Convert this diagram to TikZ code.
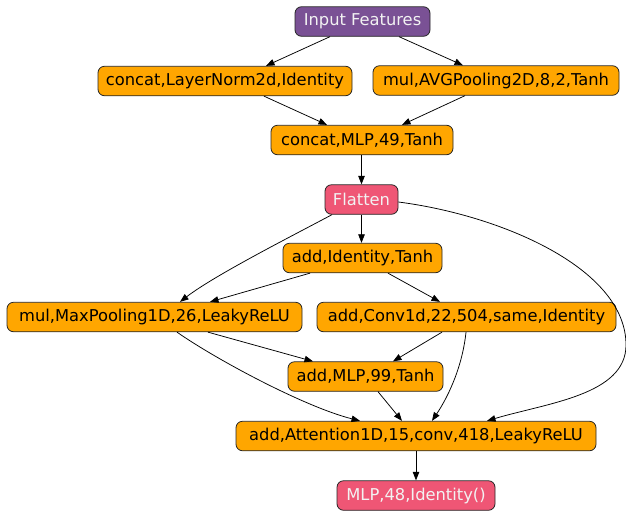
\documentclass[tikz,border=0pt]{standalone}
\usepackage{fontspec}
\setmainfont{DejaVu Sans}
\usetikzlibrary{arrows.meta}
\definecolor{nodeorange}{HTML}{FFA600}
\definecolor{nodepurple}{HTML}{7A5195}
\definecolor{nodepink}{HTML}{EF5675}
\definecolor{lighttext}{HTML}{F2F2F2}
\tikzset{
  box/.style={draw=black!85, line width=0.8pt, rounded corners=6.5pt, fill=nodeorange,
    minimum height=29.5pt, inner sep=2pt, text=black,
    font=\fontsize{16.3}{19}\selectfont},
  inbox/.style={box, fill=nodepurple, text=lighttext},
  pinkbox/.style={box, fill=nodepink, text=lighttext},
  conn/.style={line width=0.75pt, -{Triangle[length=8.5pt,width=6.5pt]}}
}
\begin{document}
\begin{tikzpicture}[x=1pt,y=-1pt]
\useasboundingbox (0,0) rectangle (626,512);
\node[inbox, minimum width=135pt] (in) at (362.5,21.5) {Input Features};
\node[box, minimum width=254pt] (c1) at (225,81) {concat,LayerNorm2d,Identity};
\node[box, minimum width=246pt] (c2) at (496,80.5) {mul,AVGPooling2D,8,2,Tanh};
\node[box, minimum width=182pt] (c3) at (362,140) {concat,MLP,49,Tanh};
\node[pinkbox, minimum width=73pt] (flat) at (361.5,199.5) {Flatten};
\node[box, minimum width=159pt] (ait) at (362.5,258) {add,Identity,Tanh};
\node[box, minimum width=295pt] (mp) at (154.5,317) {mul,MaxPooling1D,26,LeakyReLU};
\node[box, minimum width=299pt] (cv) at (466.5,317) {add,Conv1d,22,504,same,Identity};
\node[box, minimum width=155pt] (m99) at (365.5,376.5) {add,MLP,99,Tanh};
\node[box, minimum width=360pt] (att) at (416,436) {add,Attention1D,15,conv,418,LeakyReLU};
\node[pinkbox, minimum width=158pt] (out) at (416,495.5) {MLP,48,Identity()};

\draw[conn] ([xshift=-32.5pt]in.south) -- ([xshift=41pt]c1.north);
\draw[conn] ([xshift=36.5pt]in.south) -- ([xshift=-33pt]c2.north);
\draw[conn] ([xshift=39pt]c1.south) -- ([xshift=-35pt]c3.north);
\draw[conn] ([xshift=-31pt]c2.south) -- ([xshift=40pt]c3.north);
\draw[conn] (flat.north |- c3.south) -- (flat.north);
\draw[conn] (flat.south) -- (flat.south |- ait.north);
\draw[conn] ([xshift=-29.5pt]flat.south) .. controls (292,236) and (215,275) .. ([xshift=25.5pt]mp.north);
\draw[conn] ([xshift=-52.5pt]ait.south) -- ([xshift=55.5pt]mp.north);
\draw[conn] ([xshift=25.5pt]ait.south) -- ([xshift=-26.5pt]cv.north);
\draw[conn] ([yshift=-2.5pt]flat.east) .. controls (500,215) and (626,268) .. (626,345)
  .. controls (626,395) and (547,403) .. ([xshift=71pt]att.north);
\draw[conn] ([xshift=53.5pt]mp.south) -- ([xshift=-52.5pt]m99.north);
\draw[conn] ([xshift=-24.5pt]cv.south) -- ([xshift=27.5pt]m99.north);
\draw[conn] ([xshift=22.5pt]mp.south) .. controls (217,360) and (305,407) .. ([xshift=-56pt]att.north);
\draw[conn] ([xshift=-0.5pt]cv.south) .. controls (462,370) and (446,400) .. ([xshift=16pt]att.north);
\draw[conn] ([xshift=12.5pt]m99.south) -- ([xshift=-14pt]att.north);
\draw[conn] (att.south) -- (out.north);
\end{tikzpicture}
\end{document}
